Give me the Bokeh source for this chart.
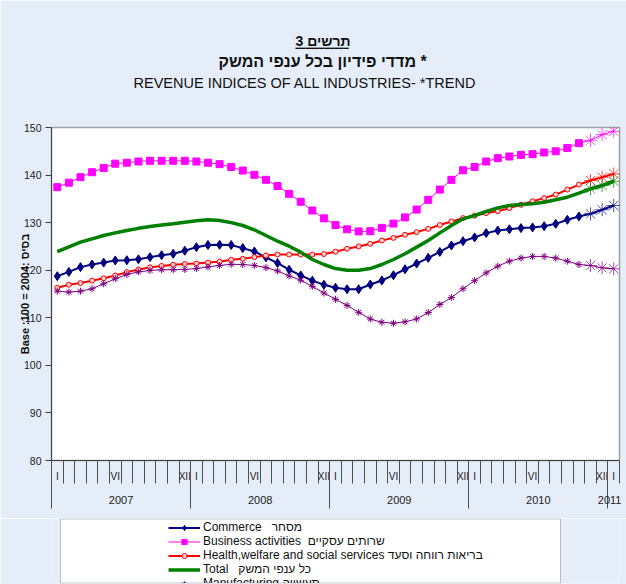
from bokeh.plotting import figure
from bokeh.layouts import column
from bokeh.models import Range1d, FixedTicker, Legend, LegendItem, LinearAxis, Title, BoxAnnotation
from bokeh.embed import file_html
from bokeh.resources import INLINE

# ---------------- data ----------------
years = ["2007", "2008", "2009", "2010", "2011"]
month_marks = ["I", "", "", "", "", "VI", "", "", "", "", "", "XII"] * 4 + ["I"]

commerce = [118.75, 119.65, 120.65, 121.2, 121.6, 122.05, 122.1, 122.3, 122.75, 123.15, 123.45, 124.1,
            124.85, 125.3, 125.35, 125.3, 124.65, 123.95, 122.7, 121.5, 120.1, 118.9, 117.8, 116.95,
            116.3, 116.0, 116.0, 117.0, 117.85, 118.95, 120.2, 121.4, 122.6, 123.85, 125.2, 126.1,
            126.9, 127.8, 128.35, 128.6, 128.85, 129.0, 129.25, 129.75, 130.6, 131.3,
            131.85, 132.7, 133.6]
business = [137.45, 138.4, 139.55, 140.6, 141.5, 142.4, 142.6, 142.85, 143.0, 143.0, 143.0, 143.0,
            142.85, 142.6, 142.3, 141.7, 140.96, 140.05, 139.0, 137.7, 136.05, 134.4, 132.55, 130.9,
            129.5, 128.6, 128.15, 128.2, 128.9, 129.8, 131.1, 132.75, 134.8, 136.95, 139.0, 141.0,
            141.7, 142.85, 143.55, 143.9, 144.25, 144.4, 144.75, 145.0, 145.7, 146.7,
            147.3, 148.5, 149.2]
health = [116.3, 116.95, 117.3, 117.8, 118.3, 118.9, 119.6, 120.15, 120.6, 120.9, 121.15, 121.3,
          121.4, 121.6, 121.8, 122.2, 122.4, 122.75, 123.1, 123.3, 123.3, 123.3, 123.3, 123.4,
          123.9, 124.5, 125.0, 125.55, 126.25, 126.8, 127.45, 128.0, 128.7, 129.5, 130.25, 130.95,
          131.45, 132.0, 132.4, 133.05, 133.75, 134.5, 135.15, 135.9, 136.95, 138.0,
          138.85, 139.55, 140.25]
total = [123.9, 124.9, 125.9, 126.6, 127.3, 127.85, 128.35, 128.8, 129.2, 129.5, 129.75, 130.1,
         130.4, 130.6, 130.45, 130.0, 129.4, 128.5, 127.3, 126.1, 125.05, 123.8, 122.25, 121.2,
         120.35, 120.0, 120.0, 120.35, 121.2, 122.25, 123.45, 124.85, 126.25, 127.85, 129.4, 130.8,
         131.5, 132.35, 133.1, 133.6, 133.8, 133.95, 134.3, 134.8, 135.35, 136.2,
         137.1, 137.8, 138.7]
manufacturing = [115.6, 115.4, 115.6, 116.1, 117.15, 118.2, 119.1, 119.65, 119.95, 120.1, 120.1, 120.15,
                 120.35, 120.7, 121.0, 121.25, 121.2, 121.0, 120.55, 119.85, 118.8, 117.9, 116.6, 115.2,
                 113.9, 112.6, 111.15, 109.75, 109.05, 108.85, 109.15, 109.75, 111.1, 112.8, 114.25, 116.1,
                 117.8, 119.45, 120.85, 121.9, 122.55, 122.9, 122.9, 122.55, 121.9, 121.2,
                 121.0, 120.5, 120.3]
n_forecast = 3  # last points drawn as large asterisks

labels = ["Commerce   מסחר",
          "Business activities  שרותים עסקיים",
          "Health,welfare and social services בריאות רווחה וסעד",
          "Total   כל ענפי המשק",
          "Manufacturing תעשייה"]

FONT = "Liberation Sans"
BG = "#e4edf8"
N = len(commerce)
xs = [i + 0.5 for i in range(N)]

W, H1, H2 = 626, 518, 66
FL, FR, FT, FB = 51, 619, 127, 460  # frame in pixels

p = figure(width=W, height=H1, output_backend="svg", toolbar_location=None,
           x_range=Range1d(0, N), y_range=Range1d(80, 150),
           min_border_left=FL, min_border_right=W - FR, min_border_top=FT,
           min_border_bottom=H1 - FB,
           background_fill_color="white", border_fill_color=BG,
           outline_line_color="#a0a0a0", outline_line_width=1.5)
p.xgrid.visible = False
p.ygrid.visible = False

# titles (later added = higher up); first one is an invisible spacer
p.add_layout(Title(text="\u00a0", text_font=FONT, text_font_size="10px", standoff=22), "above")
p.add_layout(Title(text="REVENUE INDICES OF ALL INDUSTRIES- *TREND", align="left", offset=82,
                   text_font=FONT, text_font_size="14.5px", text_font_style="normal",
                   text_color="#111111", standoff=4), "above")
p.add_layout(Title(text="מדדי פידיון בכל ענפי המשק *", align="left", offset=167,
                   text_font=FONT, text_font_size="16px", text_font_style="bold",
                   text_color="#111111", standoff=1), "above")
p.add_layout(Title(text="━━━━━━━━━━━", align="left", offset=244,
                   text_font="DejaVu Sans Mono", text_font_size="8px", text_font_style="normal",
                   text_color="#111111", standoff=-4), "above")
p.add_layout(Title(text="תרשים 3", align="left", offset=244,
                   text_font=FONT, text_font_size="14px", text_font_style="bold",
                   text_color="#111111", standoff=-10), "above")

# y axis
p.yaxis.ticker = FixedTicker(ticks=list(range(80, 151, 10)))
p.yaxis.major_tick_out = 6
p.yaxis.major_tick_in = 0
p.yaxis.minor_tick_line_color = None
p.yaxis.major_label_standoff = 4
p.yaxis.major_label_text_font = FONT
p.yaxis.major_label_text_font_size = "10.5px"
p.yaxis.major_label_text_color = "#222222"
p.yaxis.axis_line_color = "#404040"
p.yaxis.major_tick_line_color = "#404040"
p.yaxis.axis_label = "Base :100 = 2004: בסיס"
p.yaxis.axis_label_text_font = FONT
p.yaxis.axis_label_text_font_size = "11px"
p.yaxis.axis_label_text_font_style = "bold"
p.yaxis.axis_label_text_color = "#111111"
p.yaxis.axis_label_standoff = -10

# x axis level 1: month marks and month separators
mpos = [xs[i] for i, m in enumerate(month_marks) if m]
xa = p.xaxis[0]
xa.ticker = FixedTicker(ticks=mpos, minor_ticks=list(range(N + 1)))
xa.major_label_overrides = {xs[i]: m for i, m in enumerate(month_marks) if m}
xa.major_tick_out = 0
xa.major_tick_in = 0
xa.major_tick_line_color = None
xa.minor_tick_out = 23
xa.minor_tick_in = 0
xa.minor_tick_line_color = "#505050"
xa.major_label_standoff = -13
xa.major_label_text_font = FONT
xa.major_label_text_font_size = "10px"
xa.major_label_text_color = "#222222"
xa.axis_line_color = "#404040"

# x axis level 2: years and year separators
ypos = [6, 18, 30, 42, 48.15]
xa2 = LinearAxis(ticker=FixedTicker(ticks=ypos, minor_ticks=[0, 12, 24, 36, 48]),
                 major_label_overrides={v: y for v, y in zip(ypos, years)},
                 major_tick_out=0, major_tick_in=0, major_tick_line_color=None,
                 minor_tick_in=23, minor_tick_out=24, minor_tick_line_color="#505050",
                 major_label_standoff=-13, major_label_text_font=FONT,
                 major_label_text_font_size="11px", major_label_text_color="#222222",
                 axis_line_color=None)
p.add_layout(xa2, "below")

# legend panel (same borders as the chart, so the column keeps the frames aligned)
q = figure(width=W, height=H2, output_backend="svg", toolbar_location=None,
           x_range=Range1d(FL, FR), y_range=Range1d(0, H2 - 1),
           x_axis_location=None, y_axis_location=None,
           min_border_left=FL, min_border_right=W - FR, min_border_top=0, min_border_bottom=1,
           background_fill_color=BG, border_fill_color=BG, outline_line_color=None)
q.xgrid.visible = False
q.ygrid.visible = False
q.add_layout(BoxAnnotation(left=60, right=560, top=H2 - 1.5, bottom=0.5,
                           fill_color="white", fill_alpha=1,
                           line_color="#404040", line_width=1))

# series
specs = [
    (commerce, "#000080", 2.0, "diamond", 9),
    (business, "#ff00ff", 1.0, "square", 7),
    (health, "#ff0000", 2.0, "circle", 5),
    (total, "#008000", 3.5, None, 0),
    (manufacturing, "#800080", 1.0, "asterisk", 7),
]
items = []
for (vals, col, lw, mk, sz), lab in zip(specs, labels):
    p.line(xs, vals, line_color=col, line_width=lw)
    main_x, main_y = xs[:N - n_forecast], vals[:N - n_forecast]
    # legend-panel copies lie outside that panel's ranges, so only their swatches show
    rs = [q.line(xs, vals, line_color=col, line_width=lw)]
    if mk == "circle":
        kw = dict(marker="circle", size=sz, line_color=col, fill_color="#ffd0d0", line_width=1)
    elif mk == "asterisk":
        kw = dict(marker="asterisk", size=sz, line_color=col, line_width=1)
    elif mk:
        kw = dict(marker=mk, size=sz, line_color=col, fill_color=col)
    else:
        kw = None
    if kw:
        p.scatter(main_x, main_y, **kw)
        rs.append(q.scatter(main_x, main_y, **kw))
    p.scatter(xs[N - n_forecast:], vals[N - n_forecast:], marker="asterisk", size=13,
              line_color=col, line_alpha=0.7, line_width=1)
    items.append(LegendItem(label=lab, renderers=rs))

legend = Legend(items=items, location=(168 - FL, -7), padding=0, spacing=0, margin=0,
                glyph_width=32, glyph_height=13, label_height=13, label_standoff=3,
                label_text_font=FONT, label_text_font_size="12px", label_text_color="#111111",
                border_line_color=None, background_fill_alpha=0)
q.add_layout(legend, "center")

open("out.html", "w").write(file_html(column(p, q, spacing=0), INLINE))
